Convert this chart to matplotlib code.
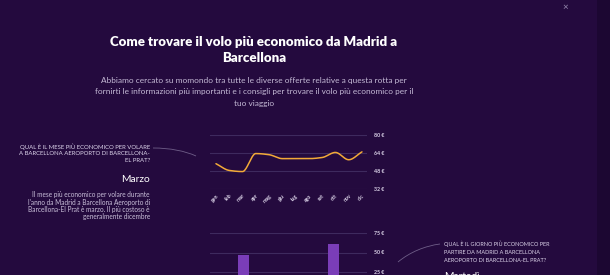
import numpy as np
import matplotlib
matplotlib.use("Agg")
import matplotlib.pyplot as plt
from matplotlib.path import Path
from matplotlib.patches import PathPatch, Rectangle

plt.rcParams['font.family'] = ['Lato', 'DejaVu Sans']

months = ["gen", "feb", "mar", "apr", "mag", "giu", "lug", "ago", "set", "ott", "nov", "dic"]
month_prices = [54.5, 48.5, 47.5, 63.5, 62.5, 59, 59, 59, 60, 64.5, 58, 65]
line_ticks = [32, 48, 64, 80]
line_tick_labels = ["32 €", "48 €", "64 €", "80 €"]

days = ["lun", "mar", "mer", "gio", "ven", "sab", "dom"]
day_prices = [18, 47, 15, 17, 19, 60.5, 20]
bar_ticks = [25, 50, 75]
bar_tick_labels = ["25 €", "50 €", "75 €"]

title = "Come trovare il volo più economico da Madrid a\nBarcellona"
subtitle = ["Abbiamo cercato su momondo tra tutte le diverse offerte relative a questa rotta per",
            "fornirti le informazioni più importanti e i consigli per trovare il volo più economico per il",
            "tuo viaggio"]
left_q = ["QUAL È IL MESE PIÙ ECONOMICO PER VOLARE",
          "A BARCELLONA AEROPORTO DI BARCELLONA-",
          "EL PRAT?"]
left_answer = "Marzo"
left_par = ["Il mese più economico per volare durante",
            "l'anno da Madrid a Barcellona Aeroporto di",
            "Barcellona-El Prat è marzo. Il più costoso è",
            "generalmente dicembre"]
right_q = ["QUAL È IL GIORNO PIÙ ECONOMICO PER",
           "PARTIRE DA MADRID A BARCELLONA",
           "AEROPORTO DI BARCELLONA-EL PRAT?"]
right_answer = "Martedì"

W, H = 610, 275
BG = "#240A3E"
GRID = "#3E2A5E"
fig = plt.figure(figsize=(W / 100, H / 100), dpi=100, facecolor=BG)

def fx(x):
    return x / W

def fy(y):
    return 1 - y / H

# scrollbar strip
fig.patches.append(Rectangle((fx(597), 0), fx(13), 1, transform=fig.transFigure,
                             facecolor="#1C0732", edgecolor="none", zorder=0))
fig.text(fx(565), fy(8), "×", color="#9C8FB5", fontsize=7, ha="center", va="center")

# title & subtitle
fig.text(fx(254), fy(50), title, color="white", fontsize=9.5, fontweight="heavy",
         ha="center", va="center", linespacing=1.45)
for i, s in enumerate(subtitle):
    fig.text(fx(254), fy(80 + i * 11.7), s, color="#C5BAD6", fontsize=5.95,
             ha="center", va="center")

# left text block
for i, s in enumerate(left_q):
    fig.text(fx(150), fy(146.7 + i * 7), s, color="#DCD3EA", fontsize=4.35,
             ha="right", va="center")
fig.text(fx(150), fy(179.5), left_answer, color="white", fontsize=7.4,
         ha="right", va="center")
for i, s in enumerate(left_par):
    fig.text(fx(150), fy(195 + i * 7.2), s, color="#C9BFD9", fontsize=4.7,
             ha="right", va="center")

# right text block
for i, s in enumerate(right_q):
    fig.text(fx(444), fy(244 + i * 8.3), s, color="#DCD3EA", fontsize=4.0,
             ha="left", va="center")
fig.text(fx(444), fy(276.5), right_answer, color="white", fontsize=7.4,
         ha="left", va="center")

# decorative curves
p1 = Path([(fx(153), fy(148)), (fx(170), fy(148)), (fx(185), fy(151)), (fx(196), fy(156))],
          [Path.MOVETO, Path.CURVE4, Path.CURVE4, Path.CURVE4])
fig.patches.append(PathPatch(p1, transform=fig.transFigure, facecolor="none",
                             edgecolor="#8F82A8", lw=0.6, alpha=0.7))
p2 = Path([(fx(398), fy(262)), (fx(410), fy(252)), (fx(425), fy(246)), (fx(440), fy(244))],
          [Path.MOVETO, Path.CURVE4, Path.CURVE4, Path.CURVE4])
fig.patches.append(PathPatch(p2, transform=fig.transFigure, facecolor="none",
                             edgecolor="#8F82A8", lw=0.6, alpha=0.7))

# ---- line chart ----
ax = fig.add_axes([fx(210), fy(189), fx(367 - 210), (189 - 135) / H])
ax.set_facecolor("none")
x = np.arange(len(months))
y = np.array(month_prices, dtype=float)

# monotone cubic (Fritsch-Carlson) for smooth rendering
d = np.diff(y)
m = np.zeros_like(y)
m[0], m[-1] = d[0], d[-1]
for i in range(1, len(y) - 1):
    if d[i - 1] * d[i] <= 0:
        m[i] = 0
    else:
        m[i] = 2 / (1 / d[i - 1] + 1 / d[i])
xs, ys = [], []
for i in range(len(y) - 1):
    t = np.linspace(0, 1, 20)
    h00 = 2 * t**3 - 3 * t**2 + 1
    h10 = t**3 - 2 * t**2 + t
    h01 = -2 * t**3 + 3 * t**2
    h11 = t**3 - t**2
    xs.extend(x[i] + t)
    ys.extend(h00 * y[i] + h10 * m[i] + h01 * y[i + 1] + h11 * m[i + 1])
ax.plot(xs, ys, color="#F2AA38", lw=1.1, solid_capstyle="round")
ax.set_xlim(-0.45, 11.38)
ax.set_ylim(32, 80)
ax.set_yticks(line_ticks)
ax.set_yticklabels(line_tick_labels)
ax.yaxis.tick_right()
ax.grid(axis="y", color=GRID, lw=0.8)
ax.set_xticks(x)
ax.set_xticklabels(months, rotation=45, ha="right", rotation_mode="anchor")
ax.tick_params(axis="both", length=0, colors="#DDD5EA", labelsize=3.8)
ax.tick_params(axis="y", pad=5)
ax.tick_params(axis="x", pad=3)
for lbl in ax.get_xticklabels() + ax.get_yticklabels():
    lbl.set_fontweight("bold")
for s in ax.spines.values():
    s.set_visible(False)

# ---- bar chart ----
bx = fig.add_axes([fx(210), fy(233 + 75 * 0.78), fx(367 - 210), 75 * 0.78 / H])
bx.set_facecolor("none")
bx.bar(np.arange(len(days)), day_prices, width=0.5, color="#7A3DB8", zorder=2)
bx.set_xlim(-0.5, 6.5)
bx.set_ylim(0, 75)
bx.set_yticks(bar_ticks)
bx.set_yticklabels(bar_tick_labels)
bx.yaxis.tick_right()
bx.grid(axis="y", color=GRID, lw=0.8, zorder=0)
bx.set_xticks([])
bx.tick_params(axis="both", length=0, colors="#DDD5EA", labelsize=3.8, pad=5)
for lbl in bx.get_yticklabels():
    lbl.set_fontweight("bold")
for s in bx.spines.values():
    s.set_visible(False)

fig.savefig("out.png", dpi=100, facecolor=BG)
